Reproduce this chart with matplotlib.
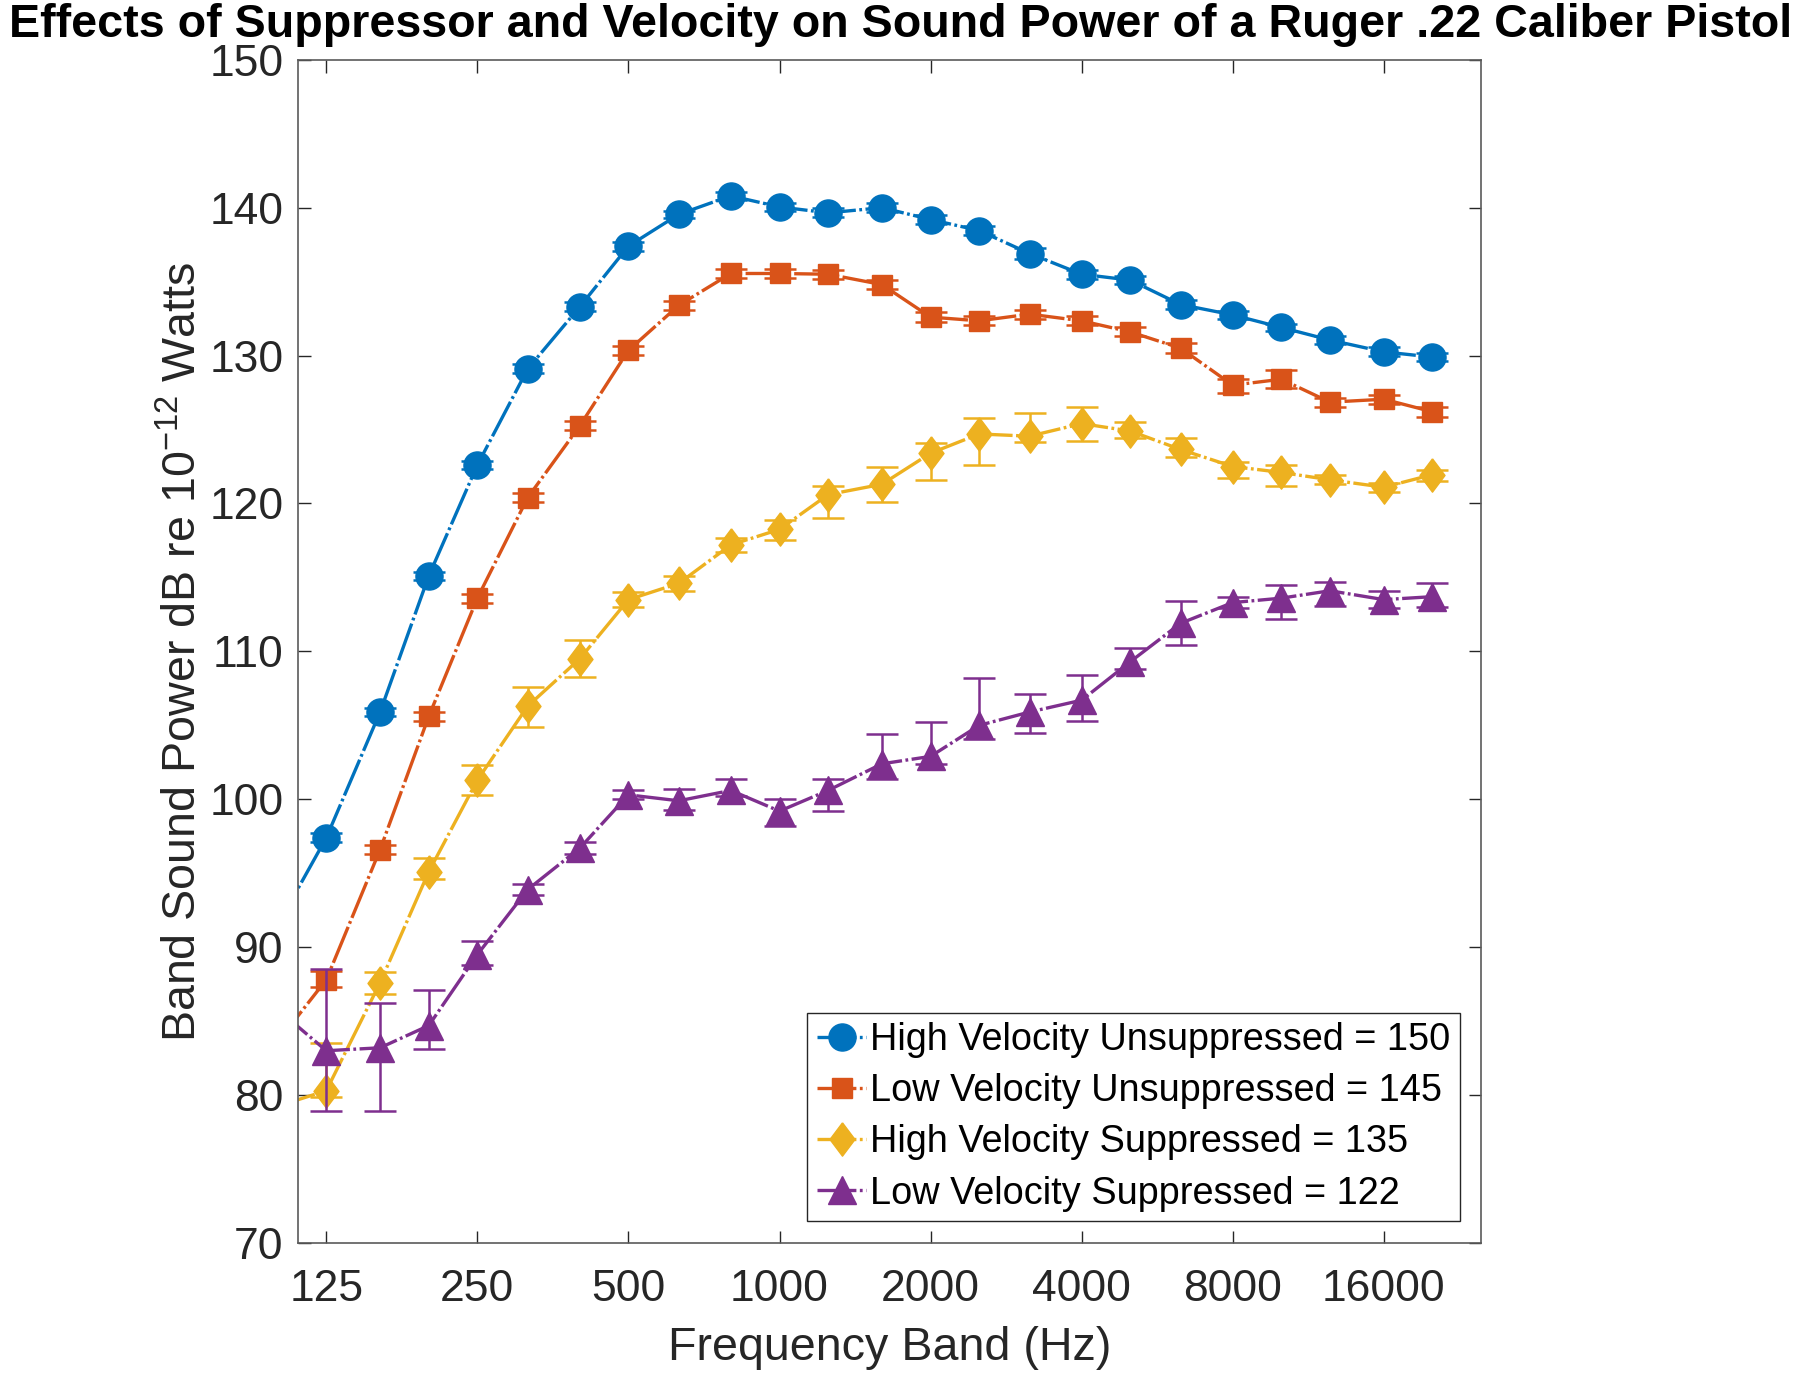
import numpy as np
import matplotlib
matplotlib.use("Agg")
import matplotlib.pyplot as plt

# third-octave band centres (100 Hz sits just outside the left edge)
freqs = [100, 125, 160, 200, 250, 315, 400, 500, 630, 800, 1000, 1250, 1600,
         2000, 2500, 3150, 4000, 5000, 6300, 8000, 10000, 12500, 16000, 20000]
tick_freqs = [125, 250, 500, 1000, 2000, 4000, 8000, 16000]
y_ticks = [70, 80, 90, 100, 110, 120, 130, 140, 150]

labels = ["High Velocity Unsuppressed = 150",
          "Low Velocity Unsuppressed = 145",
          "High Velocity Suppressed = 135",
          "Low Velocity Suppressed = 122"]

hv_unsup = [91.5, 97.4, 105.9, 115.1, 122.6, 129.1, 133.3, 137.4, 139.55, 140.8, 140.05, 139.65,
            140.0, 139.2, 138.45, 136.9, 135.5, 135.1, 133.45, 132.75, 131.9, 131.05, 130.25, 129.9]
hv_unsup_lo = [0.3, 0.3, 0.3, 0.3, 0.3, 0.3, 0.3, 0.3, 0.25, 0.25, 0.25, 0.3,
               0.3, 0.3, 0.3, 0.35, 0.3, 0.25, 0.3, 0.25, 0.25, 0.25, 0.3, 0.25]
hv_unsup_hi = [0.3, 0.3, 0.3, 0.3, 0.3, 0.3, 0.3, 0.3, 0.25, 0.25, 0.25, 0.3,
               0.3, 0.3, 0.3, 0.35, 0.3, 0.25, 0.3, 0.25, 0.25, 0.25, 0.3, 0.25]

lv_unsup = [83.6, 87.8, 96.6, 105.6, 113.6, 120.4, 125.25, 130.35, 133.4, 135.55, 135.55, 135.5,
            134.8, 132.6, 132.35, 132.8, 132.35, 131.6, 130.5, 128.0, 128.4, 126.85, 127.05, 126.2]
lv_unsup_lo = [0.5, 0.5, 0.3, 0.3, 0.3, 0.3, 0.3, 0.3, 0.3, 0.3, 0.3, 0.3,
               0.3, 0.35, 0.3, 0.3, 0.3, 0.3, 0.35, 0.5, 0.6, 0.3, 0.3, 0.35]
lv_unsup_hi = [0.5, 0.6, 0.3, 0.3, 0.3, 0.3, 0.3, 0.3, 0.3, 0.3, 0.3, 0.3,
               0.3, 0.35, 0.3, 0.3, 0.3, 0.3, 0.35, 0.4, 0.6, 0.3, 0.3, 0.35]

hv_sup = [79.25, 80.3, 87.6, 95.1, 101.3, 106.3, 109.5, 113.5, 114.6, 117.2, 118.25, 120.6,
          121.3, 123.4, 124.7, 124.55, 125.4, 124.9, 123.65, 122.5, 122.1, 121.6, 121.1, 121.95]
hv_sup_lo = [0.4, 0.4, 0.75, 0.5, 1.0, 1.4, 1.2, 0.5, 0.5, 0.5, 0.7, 1.6,
             1.2, 1.8, 2.1, 0.4, 1.2, 0.5, 0.5, 0.8, 0.9, 0.3, 0.3, 0.4]
hv_sup_hi = [3.2, 3.2, 0.7, 0.9, 1.0, 1.3, 1.3, 0.5, 0.5, 0.5, 0.6, 0.6,
             1.2, 0.7, 1.1, 1.6, 1.1, 0.6, 0.8, 0.3, 0.5, 0.3, 0.3, 0.3]

lv_sup = [85.8, 83.0, 83.2, 84.7, 89.5, 93.9, 96.7, 100.3, 99.9, 100.6, 99.2, 100.6,
          102.4, 102.9, 105.0, 105.9, 106.7, 109.3, 111.9, 113.3, 113.6, 114.1, 113.5, 113.7]
lv_sup_lo = [3.4, 4.1, 4.3, 1.6, 0.7, 0.4, 0.4, 0.3, 0.65, 0.4, 1.0, 1.4,
             1.0, 0.5, 0.9, 1.4, 1.4, 0.5, 1.5, 0.4, 1.4, 1.05, 0.6, 0.7]
lv_sup_hi = [5.5, 5.5, 3.0, 2.4, 0.9, 0.4, 0.4, 0.3, 0.8, 0.8, 0.8, 0.75,
             2.0, 2.3, 3.2, 1.2, 1.7, 0.9, 1.5, 0.4, 0.9, 0.6, 0.6, 0.9]

colors = ["#0072BD", "#D95319", "#EDB120", "#7E2F8E"]

plt.rcParams["font.family"] = ["Liberation Sans", "DejaVu Sans"]
plt.rcParams["mathtext.fontset"] = "custom"
plt.rcParams["mathtext.rm"] = "Liberation Sans"
plt.rcParams["mathtext.it"] = "Liberation Sans"
plt.rcParams["mathtext.bf"] = "Liberation Sans:bold"
plt.rcParams["lines.scale_dashes"] = False

diamond = [(0, 1), (0.75, 0), (0, -1), (-0.75, 0), (0, 1)]
markers = ["o", "s", diamond, "^"]
msizes = [19.5, 15, 24, 20.5]
dashdot = (0, (28, 2.5, 2, 2.5))   # long-dash dash-dot, like the exported MATLAB '-.'

fig = plt.figure(figsize=(18, 13.77), dpi=100)
ax = fig.add_axes([0.1658, 0.0973, 0.657, 0.8593])

series = [(hv_unsup, hv_unsup_lo, hv_unsup_hi),
          (lv_unsup, lv_unsup_lo, lv_unsup_hi),
          (hv_sup, hv_sup_lo, hv_sup_hi),
          (lv_sup, lv_sup_lo, lv_sup_hi)]

for i, (vals, lo, hi) in enumerate(series):
    z = 2 + i * 0.1
    ax.errorbar(freqs, vals, yerr=[lo, hi], fmt="none", ecolor=colors[i],
                elinewidth=1.8, capsize=11.5, capthick=1.8, zorder=z)
    ax.plot(freqs, vals, linestyle=dashdot, lw=2.4, color=colors[i],
            marker=markers[i], ms=msizes[i], mfc=colors[i], mec=colors[i],
            label=labels[i], zorder=z + 0.05)

ax.set_xscale("log")
ax.set_xlim(110, 25000)
ax.set_ylim(70, 150)
ax.set_xticks(tick_freqs)
ax.set_xticklabels([str(f) for f in tick_freqs])
ax.xaxis.set_minor_locator(matplotlib.ticker.NullLocator())
ax.set_yticks(y_ticks)

ax.tick_params(axis="both", which="major", direction="in", length=9, width=1.0,
               top=True, right=True, labelsize=32, pad=10.8,
               colors="#262626")
ax.tick_params(axis="x", pad=19)
for sp in ax.spines.values():
    sp.set_color("#5a5a5a")
    sp.set_linewidth(1.2)

ax.set_xlabel("Frequency Band (Hz)", fontsize=33.6, color="#262626")
ax.xaxis.set_label_coords(0.5, -0.0704)
ax.set_ylabel("Band Sound Power dB re 10$^{\\mathregular{-12}}$ Watts",
              fontsize=33.6, color="#262626")
ax.yaxis.set_label_coords(-0.078, 0.5)

ax.set_title("Effects of Suppressor and Velocity on Sound Power of a Ruger .22 Caliber Pistol",
             fontsize=33.6, fontweight="bold", y=1.019, pad=0, x=0.509)

leg = ax.legend(loc="lower right", bbox_to_anchor=(0.982, 0.0186), borderaxespad=0,
                fontsize=27.3, fancybox=False, edgecolor="#262626",
                handlelength=1.3, handletextpad=0.1, labelspacing=0.4,
                borderpad=0.25, numpoints=1, framealpha=1)
leg.get_frame().set_linewidth(1.0)

fig.savefig("out.png", dpi=100)
